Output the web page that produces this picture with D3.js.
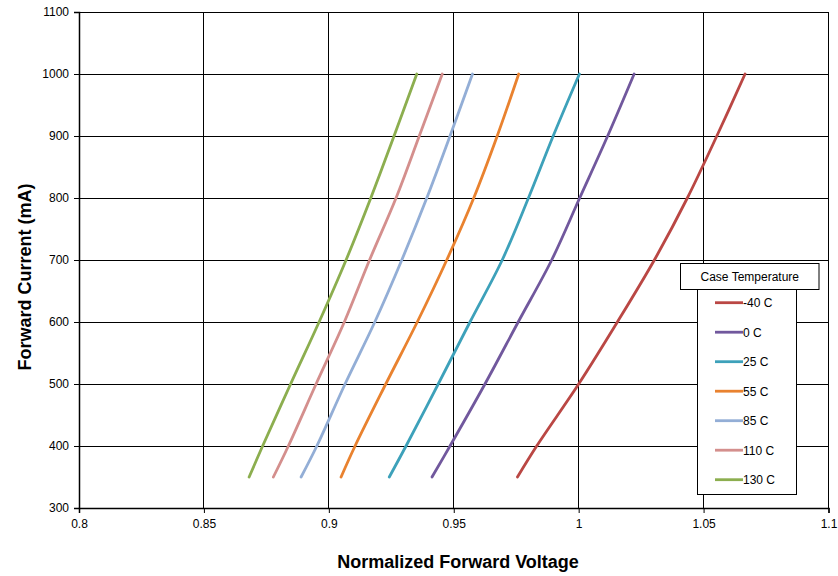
<!DOCTYPE html>
<html><head><meta charset="utf-8">
<script src="https://cdn.jsdelivr.net/npm/d3@7"></script>
<style>body{margin:0;background:#fff}svg{display:block}text{font-family:"Liberation Sans",Arial,sans-serif}</style>
</head><body>
<script>
const current = [350, 400, 500, 600, 700, 800, 900, 1000];
const vM40  = [0.9755, 0.9832, 1.0000, 1.0155, 1.0303, 1.0435, 1.0553, 1.0666];
const v0    = [0.9413, 0.9485, 0.9625, 0.9758, 0.9892, 1.0004, 1.0116, 1.0222];
const v25   = [0.9242, 0.9309, 0.9438, 0.9565, 0.9694, 0.9799, 0.9898, 1.0003];
const v55   = [0.9049, 0.9105, 0.9228, 0.9354, 0.9472, 0.9580, 0.9674, 0.9760];
const v85   = [0.8889, 0.8952, 0.9065, 0.9184, 0.9292, 0.9392, 0.9485, 0.9575];
const v110  = [0.8778, 0.8838, 0.8949, 0.9062, 0.9163, 0.9269, 0.9362, 0.9454];
const v130  = [0.8681, 0.8735, 0.8847, 0.8961, 0.9069, 0.9168, 0.9261, 0.9352];
const seriesNames = ["-40 C", "0 C", "25 C", "55 C", "85 C", "110 C", "130 C"];
const seriesValues = [vM40, v0, v25, v55, v85, v110, v130];
const colors = ["#BA4744", "#71589D", "#3DA1BA", "#E9822F", "#93AED6", "#D48F8D", "#8CAE4F"];
const xTicks = [0.8, 0.85, 0.9, 0.95, 1, 1.05, 1.1];
const yTicks = [300, 400, 500, 600, 700, 800, 900, 1000, 1100];

const W = 838, H = 576;
const L = 79, R = 828.5, T = 12, B = 508;
const svg = d3.select("body").append("svg").attr("width", W).attr("height", H);
const x = d3.scaleLinear().domain([0.8, 1.1]).range([L, R]);
const y = d3.scaleLinear().domain([300, 1100]).range([B, T]);

// gridlines
const g = svg.append("g");
g.selectAll("line.h").data(yTicks).join("line")
  .attr("x1", L).attr("x2", R).attr("y1", d => y(d)).attr("y2", d => y(d))
  .attr("stroke", "#000").attr("stroke-width", 1).attr("shape-rendering", "crispEdges");
g.selectAll("line.v").data(xTicks).join("line")
  .attr("y1", T).attr("y2", B).attr("x1", d => x(d)).attr("x2", d => x(d))
  .attr("stroke", "#000").attr("stroke-width", 1).attr("shape-rendering", "crispEdges");

// axes
const fmtX = d => String(+d.toFixed(2));
const xAxis = svg.append("g").attr("transform", `translate(0,${B})`)
  .call(d3.axisBottom(x).tickValues(xTicks).tickFormat(fmtX).tickSize(5).tickPadding(6));
const yAxis = svg.append("g").attr("transform", `translate(${L},0)`)
  .call(d3.axisLeft(y).tickValues(yTicks).tickFormat(d3.format("d")).tickSize(5).tickPadding(5));
[xAxis, yAxis].forEach(a => {
  a.select(".domain").attr("stroke", "#000").attr("stroke-width", 1.5);
  a.selectAll(".tick line").attr("stroke", "#000");
  a.selectAll(".tick text").attr("font-size", 12).attr("fill", "#000")
    .attr("font-family", '"Liberation Sans", Arial, sans-serif');
});

// lines
const line = d3.line().x(d => x(d[0])).y(d => y(d[1])).curve(d3.curveCatmullRom.alpha(0.5));
seriesValues.forEach((vals, i) => {
  const pts = vals.map((v, j) => [v, current[j]]);
  svg.append("path").datum(pts).attr("d", line)
    .attr("fill", "none").attr("stroke", colors[i]).attr("stroke-width", 2.8)
    .attr("stroke-linecap", "round").attr("stroke-linejoin", "round");
});

// axis titles
svg.append("text").attr("x", 458).attr("y", 568).attr("text-anchor", "middle")
  .attr("font-size", 18).attr("font-weight", "bold").text("Normalized Forward Voltage");
svg.append("text").attr("transform", "translate(31,277) rotate(-90)").attr("text-anchor", "middle")
  .attr("font-size", 18).attr("font-weight", "bold").text("Forward Current (mA)");

// legend
const lg = svg.append("g");
lg.append("rect").attr("x", 697.5).attr("y", 289.5).attr("width", 99).attr("height", 205)
  .attr("fill", "#fff").attr("stroke", "#000").attr("stroke-width", 1);
lg.append("rect").attr("x", 680.5).attr("y", 263.5).attr("width", 138.5).attr("height", 26)
  .attr("fill", "#fff").attr("stroke", "#000").attr("stroke-width", 1);
lg.append("text").attr("x", 749.75).attr("y", 281).attr("text-anchor", "middle")
  .attr("font-size", 12).text("Case Temperature");
seriesNames.forEach((n, i) => {
  const yy = 302.7 + i * 29.5;
  lg.append("line").attr("x1", 715).attr("x2", 743).attr("y1", yy).attr("y2", yy)
    .attr("stroke", colors[i]).attr("stroke-width", 2.8);
  lg.append("text").attr("x", 743).attr("y", yy + 4.3).attr("font-size", 12).text(n);
});
</script>
</body></html>
